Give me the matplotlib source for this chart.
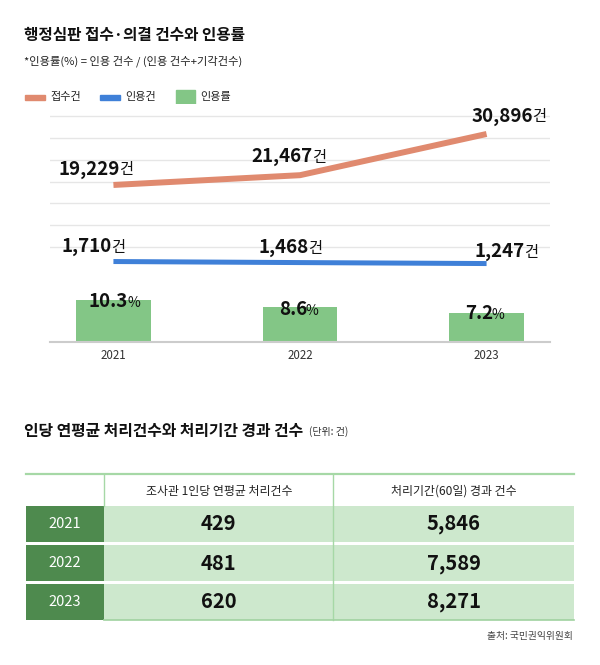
import matplotlib.pyplot as plt
from matplotlib.patches import Rectangle

plt.rcParams['font.family'] = ['Noto Sans CJK KR', 'DejaVu Sans']

# chart data
years = ['2021', '2022', '2023']
received = [19229, 21467, 30896]     # 접수건
accepted = [1710, 1468, 1247]        # 인용건
accept_rate = [10.3, 8.6, 7.2]       # 인용률 (%)

# table data
table_header = ['조사관 1인당 연평균 처리건수', '처리기간(60일) 경과 건수']
per_person = [429, 481, 620]
overdue = [5846, 7589, 8271]

orange = '#e08a6f'
blue = '#3f80d8'
green = '#83c686'
dark_green = '#4e8a4e'
light_green = '#cde8cd'
line_green = '#a6d8a6'

fig = plt.figure(figsize=(6, 6.65), dpi=100)

# background axes in pixel units for titles, legend, table
bg = fig.add_axes([0, 0, 1, 1])
bg.set_xlim(0, 600)
bg.set_ylim(665, 0)
bg.axis('off')

bg.text(24, 35, '행정심판 접수·의결 건수와 인용률', fontsize=11.3, fontweight='bold',
        va='center', color='#111111')
bg.text(24, 61, '*인용률(%) = 인용 건수 / (인용 건수+기각건수)', fontsize=8.1,
        va='center', color='#222222')

# legend
bg.add_patch(Rectangle((25, 94.5), 20, 5, color=orange))
bg.text(50, 97, '접수건', fontsize=8, va='center', color='#222222')
bg.add_patch(Rectangle((100, 94.5), 20, 5, color=blue))
bg.text(125, 97, '인용건', fontsize=8, va='center', color='#222222')
bg.add_patch(Rectangle((176, 90), 19, 15, color=green))
bg.text(200, 97, '인용률', fontsize=8, va='center', color='#222222')

# chart
x = list(range(len(years)))
ax = fig.add_axes([50 / 600, 1 - 342 / 665, 500 / 600, 238 / 665])
ax.bar(x, accept_rate, width=0.4, color=green, zorder=2)
ax.set_xlim(-0.34, 2.34)
ax.set_ylim(0, 58.6)
for s in ['top', 'right', 'left']:
    ax.spines[s].set_visible(False)
ax.spines['bottom'].set_color('#cccccc')
ax.spines['bottom'].set_linewidth(1.5)
ax.set_yticks([])
ax.set_xticks(x, years)
ax.tick_params(axis='x', length=0, pad=5, labelsize=8.3, labelcolor='#333333')

ax2 = ax.twinx()
ax2.set_ylim(-16705, 37757)
ax2.set_yticks([])
for s in ax2.spines.values():
    s.set_visible(False)
for g in range(5000, 40000, 5000):
    ax2.axhline(g, color='#e6e6e6', lw=1, zorder=0)
ax2.plot(x, received, color=orange, lw=4.3, solid_capstyle='butt', zorder=3)
ax2.plot(x, accepted, color=blue, lw=3.6, solid_capstyle='butt', zorder=3)

# label offsets in pixels: (right edge of number, baseline above point)
recv_off = [(6.7, 10.5), (13, 13.5), (46.3, 12.5)]
acc_off = [(-1.3, 10), (9, 9.5), (38.3, 7)]
rate_off = [(14.7, -6.5), (7, -7.5), (6.3, -6.5)]


def label(axis, xi, yi, num, unit, off, unit_size):
    dx, dy = off
    axis.annotate(num, (xi, yi), xytext=(dx, dy), textcoords='offset pixels',
                  ha='right', va='baseline', fontsize=13.5, fontweight='bold',
                  color='#111111', zorder=5)
    axis.annotate(unit, (xi, yi), xytext=(dx - 1, dy), textcoords='offset pixels',
                  ha='left', va='baseline', fontsize=unit_size, color='#111111', zorder=5)


for i in x:
    label(ax2, x[i], received[i], f'{received[i]:,}', '건', recv_off[i], 11)
    label(ax2, x[i], accepted[i], f'{accepted[i]:,}', '건', acc_off[i], 11)
    label(ax, x[i], accept_rate[i], f'{accept_rate[i]}', '%', rate_off[i], 10)

# second title
bg.text(24, 431, '인당 연평균 처리건수와 처리기간 경과 건수', fontsize=11.4,
        fontweight='bold', va='center', color='#111111')
bg.text(309, 432, '(단위: 건)', fontsize=7.2, va='center', color='#333333')

# table
cols = [26, 104.3, 333.3, 574]
top = 474
head_h = 32
row_h = 36
gap = 3

for j, h in enumerate(table_header):
    bg.text((cols[j + 1] + cols[j + 2]) / 2, top + head_h / 2 + 1, h, fontsize=8.6,
            ha='center', va='center', color='#222222')

for i, yr in enumerate(years):
    y0 = top + head_h + i * (row_h + gap)
    bg.add_patch(Rectangle((cols[0], y0), cols[1] - cols[0], row_h, color=dark_green, lw=0))
    bg.add_patch(Rectangle((cols[1], y0), cols[3] - cols[1], row_h, color=light_green, lw=0))
    bg.text((cols[0] + cols[1]) / 2, y0 + row_h / 2, yr, fontsize=10.5, color='white',
            ha='center', va='center')
    bg.text((cols[1] + cols[2]) / 2, y0 + row_h / 2, f'{per_person[i]:,}', fontsize=14.5,
            fontweight='bold', ha='center', va='center', color='#111111')
    bg.text((cols[2] + cols[3]) / 2, y0 + row_h / 2, f'{overdue[i]:,}', fontsize=14.5,
            fontweight='bold', ha='center', va='center', color='#111111')

bottom = top + head_h + len(years) * (row_h + gap) - gap
bg.plot([cols[0], cols[3]], [top, top], color=line_green, lw=1.6)
bg.plot([cols[1], cols[1]], [top, top + head_h], color=line_green, lw=1)
bg.plot([cols[2], cols[2]], [top, bottom], color=line_green, lw=1)
bg.plot([cols[1], cols[3]], [bottom, bottom], color='#a0d2a0', lw=1.2)

bg.text(573, 636, '출처: 국민권익위원회', fontsize=7, ha='right', va='center', color='#444444')

fig.savefig('out.png', dpi=100)
